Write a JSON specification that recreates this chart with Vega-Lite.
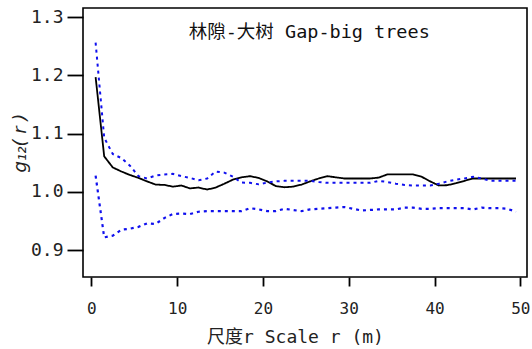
{
  "$schema": "https://vega.github.io/schema/vega-lite/v6.json",
  "width": 444,
  "height": 269,
  "autosize": "none",
  "padding": {"left": 83, "top": 8, "right": 5, "bottom": 72},
  "background": "white",
  "config": {
    "view": {"stroke": "black", "strokeWidth": 1.6},
    "font": "DejaVu Sans Mono, Noto Sans CJK SC",
    "axis": {
      "domain": false,
      "grid": false,
      "tickColor": "black",
      "tickWidth": 1.8,
      "labelColor": "#222222",
      "titleColor": "#222222",
      "labelFont": "DejaVu Sans Mono, Noto Sans CJK SC",
      "titleFont": "DejaVu Sans Mono, Noto Sans CJK SC",
      "titleFontWeight": "normal"
    }
  },
  "datasets": {
    "curves": [
      {"r":0.5,"series":"obs","g":1.197},{"r":1.5,"series":"obs","g":1.061},{"r":2.5,"series":"obs","g":1.042},{"r":3.5,"series":"obs","g":1.035},{"r":4.5,"series":"obs","g":1.029},
      {"r":5.5,"series":"obs","g":1.024},{"r":6.5,"series":"obs","g":1.018},{"r":7.5,"series":"obs","g":1.0125},{"r":8.5,"series":"obs","g":1.012},{"r":9.5,"series":"obs","g":1.009},
      {"r":10.5,"series":"obs","g":1.011},{"r":11.5,"series":"obs","g":1.006},{"r":12.5,"series":"obs","g":1.0075},{"r":13.5,"series":"obs","g":1.004},{"r":14.5,"series":"obs","g":1.0075},
      {"r":15.5,"series":"obs","g":1.014},{"r":16.5,"series":"obs","g":1.021},{"r":17.5,"series":"obs","g":1.025},{"r":18.5,"series":"obs","g":1.027},{"r":19.5,"series":"obs","g":1.024},
      {"r":20.5,"series":"obs","g":1.018},{"r":21.5,"series":"obs","g":1.010},{"r":22.5,"series":"obs","g":1.008},{"r":23.5,"series":"obs","g":1.009},{"r":24.5,"series":"obs","g":1.0125},
      {"r":25.5,"series":"obs","g":1.018},{"r":26.5,"series":"obs","g":1.023},{"r":27.5,"series":"obs","g":1.027},{"r":28.5,"series":"obs","g":1.025},{"r":29.5,"series":"obs","g":1.023},
      {"r":30.5,"series":"obs","g":1.023},{"r":31.5,"series":"obs","g":1.023},{"r":32.5,"series":"obs","g":1.023},{"r":33.5,"series":"obs","g":1.0245},{"r":34.5,"series":"obs","g":1.030},
      {"r":35.5,"series":"obs","g":1.030},{"r":36.5,"series":"obs","g":1.030},{"r":37.5,"series":"obs","g":1.030},{"r":38.5,"series":"obs","g":1.026},{"r":39.5,"series":"obs","g":1.018},
      {"r":40.5,"series":"obs","g":1.011},{"r":41.5,"series":"obs","g":1.0115},{"r":42.5,"series":"obs","g":1.015},{"r":43.5,"series":"obs","g":1.019},{"r":44.5,"series":"obs","g":1.023},
      {"r":45.5,"series":"obs","g":1.023},{"r":46.5,"series":"obs","g":1.023},{"r":47.5,"series":"obs","g":1.023},{"r":48.5,"series":"obs","g":1.023},{"r":49.5,"series":"obs","g":1.023},

      {"r":0.5,"series":"upper","g":1.256},{"r":1.5,"series":"upper","g":1.093},{"r":2.5,"series":"upper","g":1.065},{"r":3.5,"series":"upper","g":1.058},{"r":4.5,"series":"upper","g":1.045},
      {"r":5.5,"series":"upper","g":1.027},{"r":6.5,"series":"upper","g":1.023},{"r":7.5,"series":"upper","g":1.028},{"r":8.5,"series":"upper","g":1.030},{"r":9.5,"series":"upper","g":1.031},
      {"r":10.5,"series":"upper","g":1.027},{"r":11.5,"series":"upper","g":1.024},{"r":12.5,"series":"upper","g":1.020},{"r":13.5,"series":"upper","g":1.023},{"r":14.5,"series":"upper","g":1.035},
      {"r":15.5,"series":"upper","g":1.033},{"r":16.5,"series":"upper","g":1.026},{"r":17.5,"series":"upper","g":1.016},{"r":18.5,"series":"upper","g":1.0155},{"r":19.5,"series":"upper","g":1.013},
      {"r":20.5,"series":"upper","g":1.016},{"r":21.5,"series":"upper","g":1.018},{"r":22.5,"series":"upper","g":1.019},{"r":23.5,"series":"upper","g":1.019},{"r":24.5,"series":"upper","g":1.019},
      {"r":25.5,"series":"upper","g":1.019},{"r":26.5,"series":"upper","g":1.017},{"r":27.5,"series":"upper","g":1.0155},{"r":28.5,"series":"upper","g":1.0155},{"r":29.5,"series":"upper","g":1.0155},
      {"r":30.5,"series":"upper","g":1.0155},{"r":31.5,"series":"upper","g":1.0155},{"r":32.5,"series":"upper","g":1.0155},{"r":33.5,"series":"upper","g":1.019},{"r":34.5,"series":"upper","g":1.017},
      {"r":35.5,"series":"upper","g":1.014},{"r":36.5,"series":"upper","g":1.012},{"r":37.5,"series":"upper","g":1.011},{"r":38.5,"series":"upper","g":1.011},{"r":39.5,"series":"upper","g":1.011},
      {"r":40.5,"series":"upper","g":1.014},{"r":41.5,"series":"upper","g":1.018},{"r":42.5,"series":"upper","g":1.021},{"r":43.5,"series":"upper","g":1.023},{"r":44.5,"series":"upper","g":1.026},
      {"r":45.5,"series":"upper","g":1.023},{"r":46.5,"series":"upper","g":1.019},{"r":47.5,"series":"upper","g":1.019},{"r":48.5,"series":"upper","g":1.019},{"r":49.5,"series":"upper","g":1.019},

      {"r":0.5,"series":"lower","g":1.028},{"r":1.5,"series":"lower","g":0.922},{"r":2.5,"series":"lower","g":0.925},{"r":3.5,"series":"lower","g":0.935},{"r":4.5,"series":"lower","g":0.937},
      {"r":5.5,"series":"lower","g":0.940},{"r":6.5,"series":"lower","g":0.946},{"r":7.5,"series":"lower","g":0.945},{"r":8.5,"series":"lower","g":0.955},{"r":9.5,"series":"lower","g":0.962},
      {"r":10.5,"series":"lower","g":0.963},{"r":11.5,"series":"lower","g":0.962},{"r":12.5,"series":"lower","g":0.966},{"r":13.5,"series":"lower","g":0.967},{"r":14.5,"series":"lower","g":0.967},
      {"r":15.5,"series":"lower","g":0.967},{"r":16.5,"series":"lower","g":0.967},{"r":17.5,"series":"lower","g":0.967},{"r":18.5,"series":"lower","g":0.972},{"r":19.5,"series":"lower","g":0.970},
      {"r":20.5,"series":"lower","g":0.967},{"r":21.5,"series":"lower","g":0.967},{"r":22.5,"series":"lower","g":0.971},{"r":23.5,"series":"lower","g":0.969},{"r":24.5,"series":"lower","g":0.967},
      {"r":25.5,"series":"lower","g":0.970},{"r":26.5,"series":"lower","g":0.971},{"r":27.5,"series":"lower","g":0.972},{"r":28.5,"series":"lower","g":0.973},{"r":29.5,"series":"lower","g":0.974},
      {"r":30.5,"series":"lower","g":0.971},{"r":31.5,"series":"lower","g":0.968},{"r":32.5,"series":"lower","g":0.969},{"r":33.5,"series":"lower","g":0.970},{"r":34.5,"series":"lower","g":0.970},
      {"r":35.5,"series":"lower","g":0.970},{"r":36.5,"series":"lower","g":0.973},{"r":37.5,"series":"lower","g":0.973},{"r":38.5,"series":"lower","g":0.971},{"r":39.5,"series":"lower","g":0.971},
      {"r":40.5,"series":"lower","g":0.972},{"r":41.5,"series":"lower","g":0.972},{"r":42.5,"series":"lower","g":0.972},{"r":43.5,"series":"lower","g":0.972},{"r":44.5,"series":"lower","g":0.970},
      {"r":45.5,"series":"lower","g":0.973},{"r":46.5,"series":"lower","g":0.972},{"r":47.5,"series":"lower","g":0.972},{"r":48.5,"series":"lower","g":0.971},{"r":49.5,"series":"lower","g":0.966}
    ],
    "titles": [{"label": "林隙-大树 Gap-big trees"}]
  },
  "layer": [
    {
      "data": {"name": "curves"},
      "mark": {"type": "line", "clip": true},
      "encoding": {
        "x": {
          "field": "r", "type": "quantitative",
          "scale": {"domain": [-0.97, 50.78], "nice": false, "zero": false},
          "axis": {
            "values": [0, 10, 20, 30, 40, 50],
            "tickSize": 9,
            "labelPadding": 14,
            "labelFontSize": 16,
            "title": "尺度r Scale r (m)",
            "titleFontSize": 18,
            "titleX": 212,
            "titleY": 60,
            "titleBaseline": "middle",
            "titleAnchor": "middle"
          }
        },
        "y": {
          "field": "g", "type": "quantitative",
          "scale": {"domain": [0.854, 1.3155], "nice": false, "zero": false},
          "axis": {
            "values": [0.9, 1.0, 1.1, 1.2, 1.3],
            "format": ".1f",
            "tickSize": 16,
            "labelPadding": 4,
            "labelFontSize": 18,
            "title": "g₁₂( r )",
            "titleFont": "DejaVu Sans",
            "titleFontStyle": "italic",
            "titleFontSize": 18,
            "titleColor": "#222222",
            "titleX": -63,
            "titleBaseline": "middle"
          }
        },
        "detail": {"field": "series"},
        "color": {
          "field": "series", "type": "nominal",
          "scale": {"domain": ["obs", "upper", "lower"], "range": ["#000000", "#1010ee", "#1010ee"]},
          "legend": null
        },
        "strokeDash": {
          "field": "series", "type": "nominal",
          "scale": {"domain": ["obs", "upper", "lower"], "range": [[1, 0], [3, 4], [3, 4]]},
          "legend": null
        },
        "strokeWidth": {
          "field": "series", "type": "nominal",
          "scale": {"domain": ["obs", "upper", "lower"], "range": [1.8, 2.2, 2.2]},
          "legend": null
        }
      }
    },
    {
      "data": {"name": "titles"},
      "mark": {"type": "text", "fontSize": 18.5, "font": "DejaVu Sans Mono, Noto Sans CJK SC", "color": "#111111", "baseline": "middle", "align": "center"},
      "encoding": {
        "text": {"field": "label"},
        "x": {"datum": 25.4},
        "y": {"datum": 1.274}
      }
    }
  ]
}
